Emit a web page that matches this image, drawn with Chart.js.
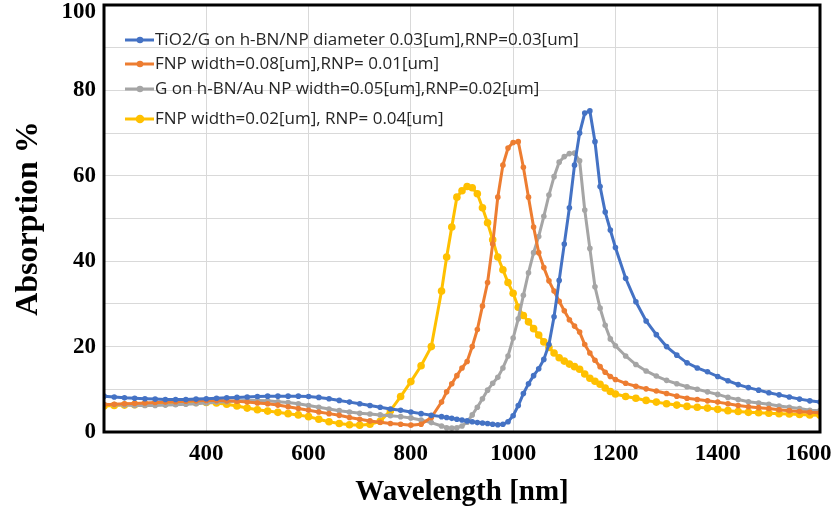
<!DOCTYPE html>
<html lang="en">
<head>
    <meta charset="UTF-8">
    <title>Absorption spectra</title>
    <script src="https://cdn.jsdelivr.net/npm/chart.js"></script>
    <style>
        html, body { margin: 0; padding: 0; background: #fff; }
        #wrap { width: 838px; height: 513px; }
    </style>
</head>
<body>
    <div id="wrap"><canvas id="absChart" width="838" height="513"></canvas></div>

    <script>
        // wavelength samples [nm], shared by all four curves
        const wavelength = [
            200, 220, 240, 260, 280, 300, 320, 340, 360, 380, 400, 420, 440, 460, 480, 500, 520, 540, 560, 580,
            600, 620, 640, 660, 680, 700, 720, 740, 760, 780, 800, 820, 840, 860,
            870, 880, 890, 900, 910, 920, 930, 940, 950, 960, 970, 980, 990, 1000, 1010, 1020, 1030, 1040,
            1050, 1060, 1070, 1080, 1090, 1100, 1110, 1120, 1130, 1140, 1150, 1160, 1170, 1180, 1190, 1200,
            1220, 1240, 1260, 1280, 1300, 1320, 1340, 1360, 1380, 1400, 1420, 1440, 1460, 1480, 1500, 1520,
            1540, 1560, 1580, 1600
        ];

        const tio2G = [
            8.4, 8.2, 8.0, 7.9, 7.8, 7.7, 7.6, 7.6, 7.6, 7.7, 7.8, 7.9, 8.0, 8.1, 8.2, 8.3, 8.4, 8.4, 8.4, 8.4,
            8.3, 8.1, 7.8, 7.4, 7.0, 6.6, 6.2, 5.8, 5.4, 5.1, 4.7, 4.3, 3.9, 3.6,
            3.4, 3.2, 3.0, 2.8, 2.6, 2.4, 2.2, 2.1, 2.0, 1.8, 1.7, 1.8, 2.4, 3.8, 6.2, 9.0, 11.3, 13.2,
            14.8, 17.0, 20.5, 27, 35.5, 44, 52.5, 62.5, 70, 74.7, 75.2, 68, 57.5, 51.5, 47.3, 43.2,
            36, 30.5, 26, 22.8, 20, 18, 16.2, 15, 14.1, 13, 12, 11.1, 10.4, 9.8, 9.2, 8.7,
            8.2, 7.7, 7.3, 7.0
        ];

        const fnp008 = [
            6.4, 6.5, 6.6, 6.7, 6.8, 6.9, 7.0, 7.1, 7.2, 7.3, 7.4, 7.4, 7.3, 7.2, 7.0, 6.8, 6.6, 6.3, 5.9, 5.5,
            5.1, 4.7, 4.3, 3.9, 3.4, 3.0, 2.6, 2.3, 2.0, 1.8, 1.6, 1.8, 3.4, 7.0,
            9.4, 11.3, 13.2, 15.0, 16.5, 20, 24, 29.5, 35, 44, 55, 62.5, 66.5, 67.8, 68, 62, 55, 48,
            42, 38.5, 35.4, 33, 30.6, 28.4, 26.3, 24.8, 23.4, 20.5, 18.5, 16.8, 15.3, 14, 13, 12.3,
            11.4, 10.7, 10.1, 9.6, 9.0, 8.4, 7.9, 7.6, 7.3, 7.0, 6.6, 6.2, 5.9, 5.7, 5.5, 5.2,
            5.0, 4.8, 4.6, 4.5
        ];

        const gAuNP = [
            6.5, 6.4, 6.3, 6.2, 6.2, 6.2, 6.3, 6.4, 6.5, 6.6, 6.8, 7.0, 7.1, 7.3, 7.4, 7.4, 7.3, 7.1, 6.9, 6.6,
            6.2, 5.8, 5.4, 5.0, 4.7, 4.4, 4.2, 4.0, 3.8, 3.6, 3.3, 2.8, 2.2, 1.4,
            1.0, 0.9, 1.0, 1.4, 2.3, 4.0, 5.8, 7.8, 9.8, 11.4, 12.8, 15, 17.8, 22, 26.5, 32, 37.3, 42,
            45.8, 50.5, 55.5, 59.8, 63.2, 64.5, 65.2, 65.3, 63.5, 52, 43, 34, 29, 25, 21.8, 20.2,
            17.8, 15.8, 14.3, 13.1, 12.1, 11.3, 10.6, 10.0, 9.4, 8.8, 8.1, 7.6, 7.1, 6.8, 6.5, 6.1,
            5.8, 5.5, 5.1, 5.0
        ];

        const fnp002 = [
            6.1, 6.2, 6.3, 6.4, 6.5, 6.6, 6.7, 6.8, 6.9, 6.9, 6.9, 6.8, 6.5, 6.1, 5.6, 5.2, 4.9, 4.6, 4.3, 4.0,
            3.6, 3.0, 2.4, 2.0, 1.7, 1.6, 1.8, 2.5, 5.0, 8.3, 11.8, 15.5, 20, 33,
            41, 48, 55, 56.5, 57.5, 57.2, 55.8, 52.5, 49, 45, 41, 38, 35, 32.5, 29.2, 27.3, 25.8, 24.2,
            22.7, 21.1, 19.8, 18.5, 17.4, 16.6, 15.9, 15.3, 14.7, 13.6, 12.6, 11.9, 11.2, 10.3, 9.5, 8.9,
            8.3, 7.9, 7.4, 7.0, 6.6, 6.3, 6.0, 5.8, 5.6, 5.3, 5.0, 4.8, 4.6, 4.5, 4.4, 4.3,
            4.2, 4.1, 4.0, 3.9
        ];

        const seriesLabels = [
            'TiO2/G on h-BN/NP diameter 0.03[um],RNP=0.03[um]',
            'FNP width=0.08[um],RNP= 0.01[um]',
            'G on h-BN/Au NP width=0.05[um],RNP=0.02[um]',
            'FNP width=0.02[um], RNP= 0.04[um]'
        ];
        const seriesValues = [tio2G, fnp008, gAuNP, fnp002];
        const seriesColors = ['#4472C4', '#ED7D31', '#A5A5A5', '#FFC000'];
        const pointSizes = [2.8, 2.8, 2.8, 3.8];

        const serif = '"Liberation Serif", "Times New Roman", serif';

        // thick black frame round the plot area
        const framePlugin = {
            id: 'frame',
            afterDraw(chart) {
                const { ctx, chartArea: a } = chart;
                ctx.save();
                ctx.strokeStyle = '#000';
                ctx.lineWidth = 3;
                ctx.strokeRect(a.left, a.top, a.right - a.left, a.bottom - a.top);
                ctx.restore();
            }
        };

        // legend sitting inside the plot, top left
        const legendRows = [40, 64, 89, 119];
        const insideLegend = {
            id: 'insideLegend',
            afterDraw(chart) {
                const { ctx } = chart;
                ctx.save();
                chart.data.datasets.forEach((ds, i) => {
                    const y = legendRows[i];
                    ctx.strokeStyle = ds.borderColor;
                    ctx.lineWidth = 3;
                    ctx.beginPath();
                    ctx.moveTo(125, y);
                    ctx.lineTo(154, y);
                    ctx.stroke();
                    ctx.fillStyle = ds.borderColor;
                    ctx.beginPath();
                    ctx.arc(140, y, pointSizes[i] + 0.5, 0, Math.PI * 2);
                    ctx.fill();
                    ctx.fillStyle = '#262626';
                    ctx.font = '17px "Open Sans", sans-serif';
                    ctx.textBaseline = 'middle';
                    ctx.fillText(ds.label, 155, y);
                });
                ctx.restore();
            }
        };

        // keep tick labels from pushing the plot area in
        const noEdgePadding = (scale) => {
            scale.paddingLeft = 0;
            scale.paddingRight = 0;
            scale.paddingTop = 0;
            scale.paddingBottom = 0;
        };

        const ctx = document.getElementById('absChart').getContext('2d');
        const absChart = new Chart(ctx, {
            type: 'scatter',
            data: {
                datasets: seriesLabels.map((label, i) => ({
                    label: label,
                    data: wavelength.map((w, k) => ({ x: w, y: seriesValues[i][k] })),
                    showLine: true,
                    borderColor: seriesColors[i],
                    backgroundColor: seriesColors[i],
                    borderWidth: 3,
                    pointRadius: pointSizes[i],
                    pointBorderWidth: 0,
                    tension: 0
                }))
            },
            options: {
                responsive: false,
                animation: false,
                layout: { padding: { top: 5, right: 18, left: 0, bottom: 0 } },
                plugins: {
                    legend: { display: false },
                    tooltip: { enabled: false }
                },
                scales: {
                    x: {
                        type: 'linear',
                        min: 200,
                        max: 1600,
                        afterFit: (scale) => { scale.height = 81; noEdgePadding(scale); },
                        ticks: {
                            stepSize: 200,
                            padding: 8,
                            color: '#000',
                            font: { family: serif, size: 23, weight: 'bold' },
                            // last label is nudged left so it stays on the page
                            callback: (v) => (v === 200 ? '' : v === 1600 ? '1600    ' : v)
                        },
                        grid: { color: '#d9d9d9', drawTicks: false },
                        border: { display: false },
                        title: {
                            display: true,
                            text: 'Wavelength [nm]',
                            color: '#000',
                            font: { family: serif, size: 29, weight: 'bold' },
                            padding: { top: 0, bottom: 3 }
                        }
                    },
                    y: {
                        min: 0,
                        max: 100,
                        afterFit: (scale) => { scale.width = 104; noEdgePadding(scale); },
                        ticks: {
                            stepSize: 10,
                            padding: 8,
                            color: '#000',
                            font: { family: serif, size: 23, weight: 'bold', lineHeight: 0.6 },
                            // top label sits a little below the frame, as in the original
                            callback: (v) => (v === 100 ? ['', '100'] : v % 20 === 0 ? v : '')
                        },
                        grid: { color: '#d9d9d9', drawTicks: false },
                        border: { display: false },
                        title: {
                            display: true,
                            text: 'Absorption %',
                            color: '#000',
                            font: { family: serif, size: 32, weight: 'bold' },
                            padding: { top: 10, bottom: 0 }
                        }
                    }
                }
            },
            plugins: [framePlugin, insideLegend]
        });
    </script>
</body>
</html>
